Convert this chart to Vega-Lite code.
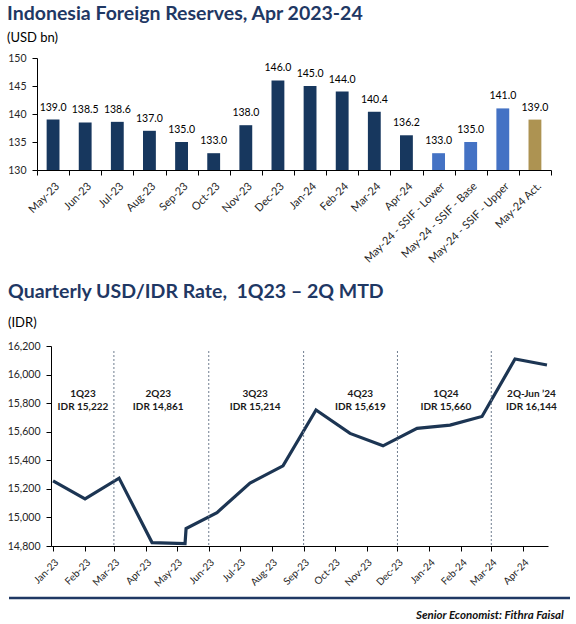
{
  "$schema": "https://vega.github.io/schema/vega-lite/v6.json",
  "background": "white",
  "padding": {"left": 6, "top": 3, "right": 0, "bottom": 0},
  "spacing": 16,
  "config": {
    "font": "Lato",
    "view": {"stroke": null},
    "axis": {"grid": false, "domainColor": "#000000", "tickColor": "#000000", "labelColor": "#262626", "labelFont": "Lato", "title": null}
  },
  "vconcat": [
    {
      "spacing": 0,
      "hconcat": [
        {"width": 1, "height": 1, "data": {"values": [{}]}, "mark": {"type": "text", "text": ""}, "encoding": {}},
        {
          "width": 514,
          "height": 112,
          "title": {
            "text": "Indonesia Foreign Reserves, Apr 2023-24",
            "subtitle": "(USD bn)",
            "anchor": "start",
            "frame": "group",
            "dx": -30,
            "fontSize": 19.5,
            "fontWeight": "bold",
            "color": "#1f3864",
            "subtitleFontSize": 13,
            "subtitleColor": "#000000",
            "subtitlePadding": 8,
            "offset": 7
          },
          "data": {
            "values": [
              {"month": "May-23", "value": 139.0, "kind": "Actual"},
              {"month": "Jun-23", "value": 138.5, "kind": "Actual"},
              {"month": "Jul-23", "value": 138.6, "kind": "Actual"},
              {"month": "Aug-23", "value": 137.0, "kind": "Actual"},
              {"month": "Sep-23", "value": 135.0, "kind": "Actual"},
              {"month": "Oct-23", "value": 133.0, "kind": "Actual"},
              {"month": "Nov-23", "value": 138.0, "kind": "Actual"},
              {"month": "Dec-23", "value": 146.0, "kind": "Actual"},
              {"month": "Jan-24", "value": 145.0, "kind": "Actual"},
              {"month": "Feb-24", "value": 144.0, "kind": "Actual"},
              {"month": "Mar-24", "value": 140.4, "kind": "Actual"},
              {"month": "Apr-24", "value": 136.2, "kind": "Actual"},
              {"month": "May-24 - SSIF - Lower", "value": 133.0, "kind": "SSIF"},
              {"month": "May-24 - SSIF - Base", "value": 135.0, "kind": "SSIF"},
              {"month": "May-24 - SSIF - Upper", "value": 141.0, "kind": "SSIF"},
              {"month": "May-24 Act.", "value": 139.0, "kind": "May Actual"}
            ]
          },
          "encoding": {
            "x": {
              "field": "month",
              "type": "nominal",
              "sort": null,
              "scale": {"paddingInner": 0, "paddingOuter": 0},
              "axis": {"labelAngle": -45, "labelFontSize": 11, "tickBand": "extent", "tickSize": 5, "labelPadding": 5}
            },
            "y": {
              "field": "value",
              "type": "quantitative",
              "scale": {"domain": [130, 150], "zero": false},
              "axis": {"values": [130, 135, 140, 145, 150], "labelFontSize": 10.5, "tickSize": 5, "labelPadding": 6, "labelOverlap": false}
            }
          },
          "layer": [
            {
              "mark": {"type": "bar", "width": {"band": 0.4}},
              "encoding": {
                "y2": {"datum": 130},
                "color": {
                  "field": "kind",
                  "type": "nominal",
                  "scale": {"domain": ["Actual", "SSIF", "May Actual"], "range": ["#17375e", "#4472c4", "#ad9352"]},
                  "legend": null
                }
              }
            },
            {
              "mark": {"type": "text", "fontSize": 10.5, "baseline": "middle", "dy": -12, "color": "#000000"},
              "encoding": {"text": {"field": "value", "type": "quantitative", "format": ".1f"}}
            }
          ]
        }
      ]
    },
    {
      "spacing": 3,
      "vconcat": [
        {
          "spacing": 0,
          "hconcat": [
            {"width": 1, "height": 1, "data": {"values": [{}]}, "mark": {"type": "text", "text": ""}, "encoding": {}},
            {
              "width": 497,
              "height": 200,
              "title": {
                "text": "Quarterly USD/IDR Rate,\u00a0 1Q23 – 2Q MTD",
                "subtitle": "(IDR)",
                "anchor": "start",
                "frame": "group",
                "dx": -43,
                "fontSize": 19.5,
                "fontWeight": "bold",
                "color": "#1f3864",
                "subtitleFontSize": 13,
                "subtitleColor": "#000000",
                "subtitlePadding": 15,
                "offset": 10
              },
              "layer": [
                {
                  "data": {
                    "values": [
                      {"date": "2023-01-01", "rate": 15256},
                      {"date": "2023-02-01", "rate": 15130},
                      {"date": "2023-03-06", "rate": 15275},
                      {"date": "2023-04-07", "rate": 14824},
                      {"date": "2023-05-09", "rate": 14817},
                      {"date": "2023-05-10", "rate": 14922},
                      {"date": "2023-06-09", "rate": 15034},
                      {"date": "2023-07-11", "rate": 15240},
                      {"date": "2023-08-12", "rate": 15361},
                      {"date": "2023-09-13", "rate": 15752},
                      {"date": "2023-10-16", "rate": 15588},
                      {"date": "2023-11-17", "rate": 15501},
                      {"date": "2023-12-20", "rate": 15623},
                      {"date": "2024-01-21", "rate": 15646},
                      {"date": "2024-02-21", "rate": 15707},
                      {"date": "2024-03-24", "rate": 16109},
                      {"date": "2024-04-24", "rate": 16067}
                    ]
                  },
                  "mark": {"type": "line", "color": "#1c3553", "strokeWidth": 3.2},
                  "encoding": {
                    "x": {
                      "field": "date",
                      "type": "temporal",
                      "scale": {"type": "utc", "domain": [{"year": 2022, "month": 12, "date": 30, "utc": true}, {"year": 2024, "month": 4, "date": 25, "utc": true}]},
                      "axis": {"format": "%b-%y", "tickCount": {"interval": "month", "step": 1}, "labelAngle": -45, "labelFontSize": 10, "tickSize": 5, "labelOverlap": false, "labelFlush": false, "labelBound": false, "labelPadding": 6}
                    },
                    "y": {
                      "field": "rate",
                      "type": "quantitative",
                      "scale": {"domain": [14800, 16200], "zero": false},
                      "axis": {"values": [14800, 15000, 15200, 15400, 15600, 15800, 16000, 16200], "format": ",d", "labelFontSize": 10.5, "tickSize": 5, "labelPadding": 6, "labelOverlap": false}
                    }
                  }
                },
                {
                  "data": {"values": [{"date": "2023-03-01"}, {"date": "2023-06-01"}, {"date": "2023-09-01"}, {"date": "2023-12-01"}, {"date": "2024-03-01"}]},
                  "mark": {"type": "rule", "strokeDash": [2, 2], "color": "#6f7d8f", "strokeWidth": 1},
                  "encoding": {
                    "x": {"field": "date", "type": "temporal"},
                    "y": {"datum": 16165, "axis": {"values": [14800, 15000, 15200, 15400, 15600, 15800, 16000, 16200], "format": ",d", "labelFontSize": 10.5, "tickSize": 5, "labelPadding": 6, "labelOverlap": false}},
                    "y2": {"datum": 14800}
                  }
                },
                {
                  "data": {
                    "values": [
                      {"date": "2023-01-30", "q": "1Q23", "v": "IDR 15,222"},
                      {"date": "2023-04-13", "q": "2Q23", "v": "IDR 14,861"},
                      {"date": "2023-07-16", "q": "3Q23", "v": "IDR 15,214"},
                      {"date": "2023-10-26", "q": "4Q23", "v": "IDR 15,619"},
                      {"date": "2024-01-17", "q": "1Q24", "v": "IDR 15,660"},
                      {"date": "2024-04-09", "q": "2Q-Jun ’24", "v": "IDR 16,144"}
                    ]
                  },
                  "layer": [
                    {
                      "mark": {"type": "text", "fontSize": 10, "fontWeight": "bold", "color": "#1a1a1a", "baseline": "middle"},
                      "encoding": {"x": {"field": "date", "type": "temporal"}, "y": {"datum": 15865, "axis": {"values": [14800, 15000, 15200, 15400, 15600, 15800, 16000, 16200], "format": ",d", "labelFontSize": 10.5, "tickSize": 5, "labelPadding": 6, "labelOverlap": false}}, "text": {"field": "q"}}
                    },
                    {
                      "mark": {"type": "text", "fontSize": 10, "fontWeight": "bold", "color": "#1a1a1a", "baseline": "middle"},
                      "encoding": {"x": {"field": "date", "type": "temporal"}, "y": {"datum": 15773, "axis": {"values": [14800, 15000, 15200, 15400, 15600, 15800, 16000, 16200], "format": ",d", "labelFontSize": 10.5, "tickSize": 5, "labelPadding": 6, "labelOverlap": false}}, "text": {"field": "v"}}
                    }
                  ]
                }
              ]
            }
          ]
        },
        {
          "spacing": 0,
          "hconcat": [
            {"width": 1, "height": 1, "data": {"values": [{}]}, "mark": {"type": "text", "text": ""}, "encoding": {}},
            {
              "width": 561,
              "height": 21,
              "data": {"values": [{"author": "Senior Economist: Fithra Faisal"}]},
              "encoding": {
                "x": {"datum": 0, "type": "quantitative", "scale": {"domain": [0, 1]}, "axis": null},
                "y": {"datum": 1, "type": "quantitative", "scale": {"domain": [0, 1]}, "axis": null}
              },
              "layer": [
                {
                  "mark": {"type": "rule", "color": "#1f3864", "strokeWidth": 2.5},
                  "encoding": {"x2": {"datum": 1}}
                },
                {
                  "mark": {"type": "text", "align": "right", "baseline": "alphabetic", "fontStyle": "italic", "fontWeight": "bold", "fontSize": 11.5, "color": "#111111"},
                  "encoding": {"x": {"datum": 0.989}, "y": {"datum": 0}, "text": {"field": "author"}}
                }
              ]
            }
          ]
        }
      ]
    }
  ]
}
